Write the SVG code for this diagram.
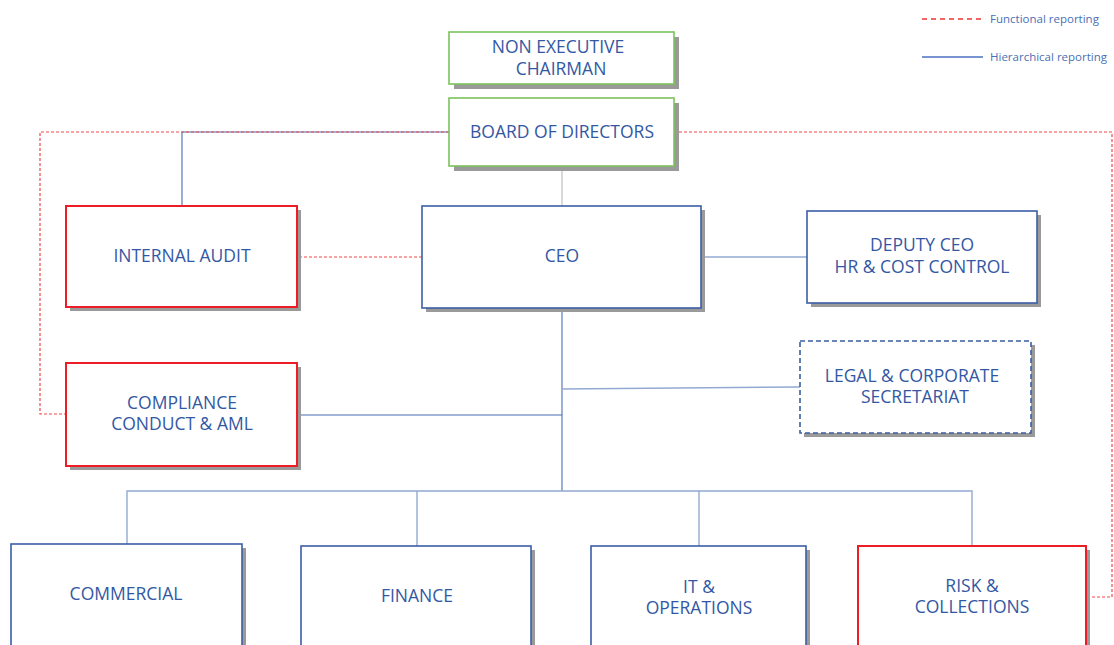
<svg xmlns="http://www.w3.org/2000/svg" width="1114" height="645" viewBox="0 0 1114 645">
<style>
.bg{fill:#ffffff}
.shadow{fill:#9a9a9a}
.box{fill:#ffffff;stroke-width:1.6}
.green{stroke:#7cc35a}
.blue{stroke:#3b5ea6}
.red{stroke:#ee1c25;stroke-width:2}
.dash{stroke-dasharray:5 3}
.t{font-family:"Open Sans","Liberation Sans",sans-serif;font-size:17.5px;fill:#3358a3;text-anchor:middle}
.lg{font-family:"Open Sans","Liberation Sans",sans-serif;font-size:11.5px;fill:#4a6fb5}
.h{fill:none;stroke:#4a6cb0;stroke-width:1.1}
.hl{fill:none;stroke:#93a9d2;stroke-width:1.4}
.f{fill:none;stroke:#f04848;stroke-width:1.2;stroke-dasharray:3 2}
.g{fill:none;stroke:#c4c4c4;stroke-width:1.3}
</style>
<rect class="bg" x="0" y="0" width="1114" height="645"/>
<g id="legend">
<line x1="922" y1="19" x2="983" y2="19" stroke="#ee3333" stroke-width="1.5" stroke-dasharray="5 4"/>
<text class="lg" x="990" y="23">Functional reporting</text>
<line x1="922" y1="57" x2="983" y2="57" stroke="#4a6fc0" stroke-width="1.5"/>
<text class="lg" x="990" y="61">Hierarchical reporting</text>
</g>
<g id="connectors">
<polyline class="h" points="449,132 182,132 182,206"/>
<polyline class="f" points="449,132 40,132 40,414 66,414"/>
<polyline class="f" points="674,132 1112,132 1112,597 1087,597"/>
<line class="g" x1="562" y1="166" x2="562" y2="206"/>
<line class="f" x1="299" y1="257" x2="422" y2="257"/>
<line class="hl" x1="701" y1="257" x2="807" y2="257"/>
<line class="h" x1="562" y1="308" x2="562" y2="491"/>
<line class="hl" x1="562" y1="389" x2="800" y2="387"/>
<line class="h" x1="299" y1="415" x2="562" y2="415"/>
<polyline class="hl" points="127,544 127,491 972,491 972,546"/>
<line class="hl" x1="417" y1="491" x2="417" y2="546"/>
<line class="hl" x1="699" y1="491" x2="699" y2="546"/>
</g>
<g id="chairman">
<rect class="shadow" x="454" y="37" width="225" height="52"/>
<rect class="box green" x="449" y="32" width="225" height="52"/>
<text class="t" x="558" y="53">NON EXECUTIVE</text>
<text class="t" x="561" y="75">CHAIRMAN</text>
</g>
<g id="board">
<rect class="shadow" x="454" y="103" width="225" height="68"/>
<rect class="box green" x="449" y="98" width="225" height="68"/>
<text class="t" x="562" y="138">BOARD OF DIRECTORS</text>
</g>
<g id="internal-audit">
<rect class="shadow" x="70" y="210" width="231" height="101"/>
<rect class="box red" x="66" y="206" width="231" height="101"/>
<text class="t" x="182" y="262">INTERNAL AUDIT</text>
</g>
<g id="ceo">
<rect class="shadow" x="426" y="210" width="279" height="102"/>
<rect class="box blue" x="422" y="206" width="279" height="102"/>
<text class="t" x="562" y="262">CEO</text>
</g>
<g id="deputy-ceo">
<rect class="shadow" x="811" y="215" width="230" height="92"/>
<rect class="box blue" x="807" y="211" width="230" height="92"/>
<text class="t" x="922" y="251">DEPUTY CEO</text>
<text class="t" x="922" y="273">HR &amp; COST CONTROL</text>
</g>
<g id="legal">
<rect class="shadow" x="804" y="345" width="231" height="92"/>
<rect class="box blue dash" x="800" y="341" width="231" height="92"/>
<text class="t" x="912" y="382">LEGAL &amp; CORPORATE</text>
<text class="t" x="915" y="403">SECRETARIAT</text>
</g>
<g id="compliance">
<rect class="shadow" x="70" y="367" width="231" height="103"/>
<rect class="box red" x="66" y="363" width="231" height="103"/>
<text class="t" x="182" y="409">COMPLIANCE</text>
<text class="t" x="182" y="430">CONDUCT &amp; AML</text>
</g>
<g id="commercial">
<rect class="shadow" x="15" y="548" width="231" height="110"/>
<rect class="box blue" x="11" y="544" width="231" height="110"/>
<text class="t" x="126" y="600">COMMERCIAL</text>
</g>
<g id="finance">
<rect class="shadow" x="305" y="550" width="230" height="110"/>
<rect class="box blue" x="301" y="546" width="230" height="110"/>
<text class="t" x="417" y="602">FINANCE</text>
</g>
<g id="it-operations">
<rect class="shadow" x="595" y="550" width="215" height="110"/>
<rect class="box blue" x="591" y="546" width="215" height="110"/>
<text class="t" x="699" y="593">IT &amp;</text>
<text class="t" x="699" y="614">OPERATIONS</text>
</g>
<g id="risk">
<rect class="shadow" x="862" y="550" width="228" height="110"/>
<rect class="box red" x="858" y="546" width="228" height="110"/>
<text class="t" x="972" y="592">RISK &amp;</text>
<text class="t" x="972" y="613">COLLECTIONS</text>
</g>
</svg>
